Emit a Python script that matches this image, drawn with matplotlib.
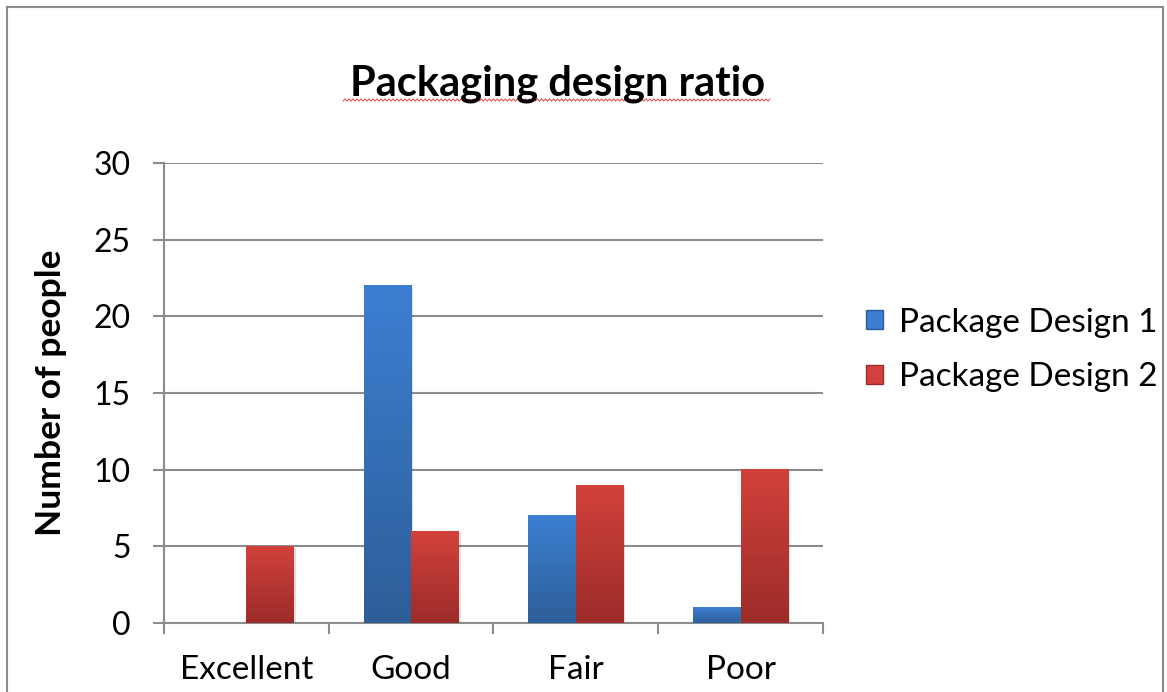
import numpy as np
import matplotlib.pyplot as plt
from matplotlib.colors import LinearSegmentedColormap
from matplotlib.patches import Rectangle

categories = ["Excellent", "Good", "Fair", "Poor"]
design1 = [0, 22, 7, 1]
design2 = [5, 6, 9, 10]
series_names = ["Package Design 1", "Package Design 2"]
y_ticks = [0, 5, 10, 15, 20, 25, 30]

plt.rcParams['font.family'] = ['Lato', 'DejaVu Sans']

GRID = "#8c8c8c"
BLUE = ("#2d5e98", "#3c7fd2")   # bottom, top
RED = ("#9c2c29", "#d2413c")

fig = plt.figure(figsize=(11.67, 6.92), dpi=100)
ax = fig.add_axes([0.1405, 0.0997, 0.5647, 0.6647])

# outer chart border, bottom edge runs off the canvas
fig.patches.append(Rectangle((7 / 1167, -0.05), 1156 / 1167, 1.05 - 7 / 692,
                             transform=fig.transFigure, fill=False,
                             edgecolor="#8a8a8a", linewidth=1.5))

width = 0.288
x = np.arange(len(categories))
grad = np.linspace(0, 1, 256).reshape(-1, 1)


def gradient_bars(xs, vals, cols):
    cmap = LinearSegmentedColormap.from_list("g", cols)
    for xi, v in zip(xs, vals):
        if v <= 0:
            continue
        # soft shadow
        ax.add_patch(Rectangle((xi - width / 2 + 0.012, 0), width, v - 0.12,
                               facecolor="#000000", alpha=0.12, zorder=2,
                               linewidth=0))
        ax.imshow(grad, extent=(xi - width / 2, xi + width / 2, 0, v),
                  origin="lower", cmap=cmap, aspect="auto", zorder=3)


gradient_bars(x - width / 2, design1, BLUE)
gradient_bars(x + width / 2, design2, RED)

ax.set_xlim(-0.5, 3.5)
ax.set_ylim(0, 30)
ax.set_yticks(y_ticks)
ax.tick_params(axis="y", labelsize=23, length=8, width=1.5, color=GRID, pad=16)
ax.set_xticks(np.arange(-0.5, 4, 1.0))
ax.set_xticks(x, minor=True)
ax.set_xticklabels([])
ax.set_xticklabels(categories, minor=True)
ax.tick_params(axis="x", which="major", length=8, width=1.5, color=GRID)
ax.tick_params(axis="x", which="minor", length=0, labelsize=24, pad=23)
ax.grid(axis="y", color=GRID, linewidth=1.5, zorder=1)
ax.set_axisbelow(True)
for s in ("top", "right"):
    ax.spines[s].set_visible(False)
for s in ("left", "bottom"):
    ax.spines[s].set_color(GRID)
    ax.spines[s].set_linewidth(1.5)

ax.set_ylabel("Number of people", fontsize=25.5, fontweight="bold", labelpad=19)

# legend
handles = [Rectangle((0, 0), 1, 1, facecolor=c[1], edgecolor=c[0])
           for c in (BLUE, RED)]
fig.legend(handles, series_names, loc="center left",
           bbox_to_anchor=(0.742, 0.494), frameon=False, fontsize=24,
           handlelength=0.5, handleheight=0.5, handletextpad=0.5,
           labelspacing=0.74, borderpad=0, borderaxespad=0)

fig.text(0.478, 0.879, "Packaging design ratio", ha="center", va="center",
         fontsize=30, fontweight="bold")

# red wavy underline under the title
wx = np.linspace(343, 770, 214) / 1167
wy = (692 - 100 + np.where(np.arange(214) % 2, 1.2, -1.2)) / 692
fig.add_artist(plt.Line2D(wx, wy, transform=fig.transFigure,
                          color="#e03030", linewidth=0.6))

fig.savefig("out.png", dpi=100)
